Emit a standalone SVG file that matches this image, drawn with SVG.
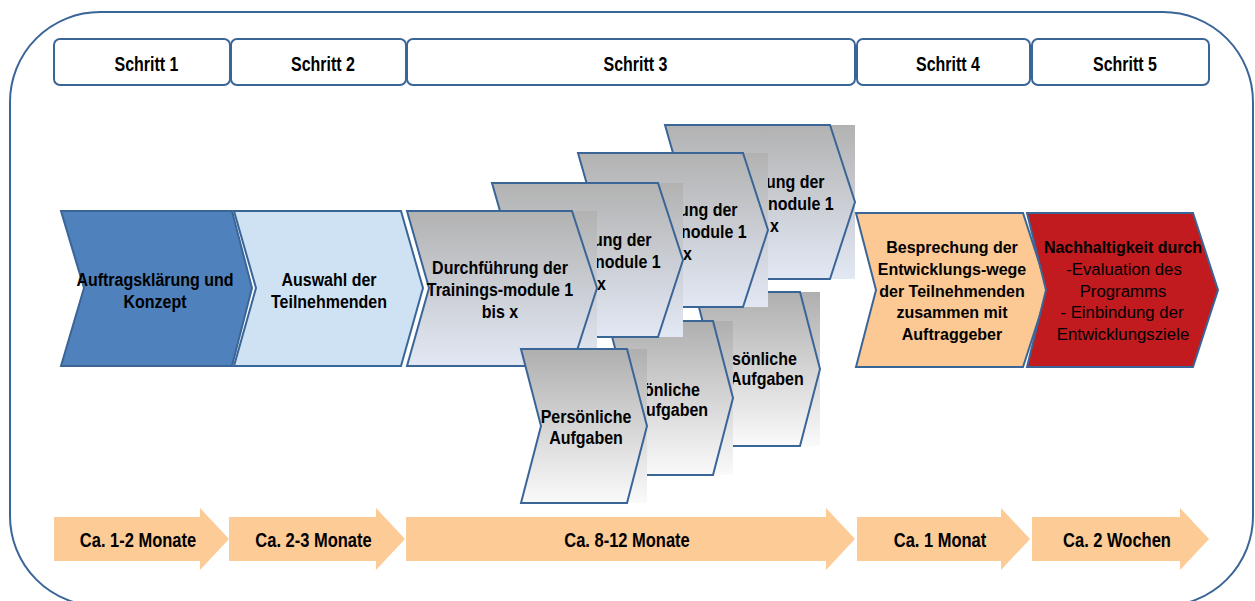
<svg xmlns="http://www.w3.org/2000/svg" width="1255" height="601" viewBox="0 0 1255 601">
<defs>
<linearGradient id="gD" x1="0" y1="0" x2="0" y2="1"><stop offset="0" stop-color="#B2B2B2"/><stop offset="1" stop-color="#E2E8F4"/></linearGradient>
<linearGradient id="gP" x1="0" y1="0" x2="0" y2="1"><stop offset="0" stop-color="#AFAFAF"/><stop offset="1" stop-color="#FAFAFA"/></linearGradient>
<style>
.frame{fill:none;stroke:#3A6597;stroke-width:2}
.hdr{fill:#fff;stroke:#3A6597;stroke-width:2}
.chev{stroke:#3A6597;stroke-width:2;stroke-linejoin:miter}
.gd{fill:url(#gD)}
.gp{fill:url(#gP)}
.t{font-family:"Liberation Sans",Arial,sans-serif;font-weight:bold;font-size:16px;fill:#000;text-anchor:middle}
.b{font-size:16.5px}
.r{font-weight:normal;font-size:16.8px}
.s{text-anchor:start}
.arr{fill:#FCCB96}
</style>
</defs>
<rect width="1255" height="601" fill="#fff"/>
<rect class="frame" x="10" y="12" width="1243" height="594" rx="90" ry="90"/>

<g id="schritt1"><rect class="hdr" x="54" y="39" width="176" height="46" rx="6"/><text class="t" transform="translate(146.5,70.5) scale(1,1.22)">Schritt 1</text></g>
<g id="schritt2"><rect class="hdr" x="231" y="39" width="175" height="46" rx="6"/><text class="t" transform="translate(323,70.5) scale(1,1.22)">Schritt 2</text></g>
<g id="schritt3"><rect class="hdr" x="407" y="39" width="448" height="46" rx="6"/><text class="t" transform="translate(635.5,70.5) scale(1,1.22)">Schritt 3</text></g>
<g id="schritt4"><rect class="hdr" x="857" y="39" width="173" height="46" rx="6"/><text class="t" transform="translate(948,70.5) scale(1,1.22)">Schritt 4</text></g>
<g id="schritt5"><rect class="hdr" x="1032" y="39" width="177" height="46" rx="6"/><text class="t" transform="translate(1125,70.5) scale(1,1.22)">Schritt 5</text></g>

<g id="auftragsklaerung"><polygon class="chev" fill="#4F81BD" stroke="#385D8A" points="61,211 232,211 252,288 232,366 61,366 84,288"/>
<text class="t" transform="translate(155,286) scale(1,1.1)"><tspan x="0" y="0">Auftragsklärung und</tspan><tspan x="0" y="20">Konzept</tspan></text></g>

<g id="auswahl"><polygon class="chev" fill="#CEE2F4" points="234,211 401,211 423,288 401,366 234,366 256,288"/>
<text class="t" transform="translate(329,286) scale(1,1.1)"><tspan x="0" y="0">Auswahl der</tspan><tspan x="0" y="20">Teilnehmenden</tspan></text></g>

<g id="aufgaben-kopie3"><rect class="gp" x="715" y="292" width="105" height="154"/><polygon class="chev gp" points="695,292 800,292 820,369 800,446 695,446 715,369"/>
<text class="t s" transform="translate(732,365) scale(1,1.1)"><tspan x="0" y="0">sönliche</tspan><tspan x="-2" y="18">Aufgaben</tspan></text></g>

<g id="aufgaben-kopie2"><rect class="gp" x="628" y="321" width="105" height="154"/><polygon class="chev gp" points="608,321 713,321 733,398 713,475 608,475 628,398"/>
<text class="t s" transform="translate(644,396) scale(1,1.1)"><tspan x="0" y="0">önliche</tspan><tspan x="2" y="18">ufgaben</tspan></text></g>

<g id="training-kopie4"><rect class="gd" x="687" y="125" width="168" height="154"/><polygon class="chev gd" points="665,125 830,125 855,202 830,279 665,279 687,202"/>
<text class="t s" transform="translate(766,188) scale(1,1.1)"><tspan x="0" y="0">ung der</tspan><tspan x="2" y="20">nodule 1</tspan><tspan x="4" y="40">x</tspan></text></g>

<g id="training-kopie3"><rect class="gd" x="600" y="153" width="168" height="154"/><polygon class="chev gd" points="578,153 743,153 768,230 743,307 578,307 600,230"/>
<text class="t s" transform="translate(679,216) scale(1,1.1)"><tspan x="0" y="0">ung der</tspan><tspan x="2" y="20">nodule 1</tspan><tspan x="4" y="40">x</tspan></text></g>

<g id="training-kopie2"><rect class="gd" x="514" y="183" width="169" height="154"/><polygon class="chev gd" points="492,183 658,183 683,260 658,337 492,337 514,260"/>
<text class="t s" transform="translate(593,246) scale(1,1.1)"><tspan x="0" y="0">ung der</tspan><tspan x="2" y="20">nodule 1</tspan><tspan x="4" y="40">x</tspan></text></g>

<g id="training"><rect class="gd" x="429" y="211" width="168" height="155"/><polygon class="chev gd" points="407,211 572,211 597,288 572,366 407,366 429,288"/>
<text class="t" transform="translate(500,274) scale(1,1.1)"><tspan x="0" y="0">Durchführung der</tspan><tspan x="0" y="20">Trainings-module 1</tspan><tspan x="0" y="40">bis x</tspan></text></g>

<g id="aufgaben"><rect class="gp" x="541" y="349" width="106" height="154"/><polygon class="chev gp" points="521,349 627,349 647,426 627,503 521,503 541,426"/>
<text class="t" transform="translate(586,423) scale(1,1.1)"><tspan x="0" y="0">Persönliche</tspan><tspan x="0" y="19">Aufgaben</tspan></text></g>

<g id="besprechung"><polygon class="chev" fill="#FCC994" points="856,213 1023,213 1048,290 1023,367 856,367 876,290"/>
<text class="t"><tspan x="952" y="253">Besprechung der</tspan><tspan x="952" y="275">Entwicklungs-wege</tspan><tspan x="952" y="297">der Teilnehmenden</tspan><tspan x="952" y="318">zusammen mit</tspan><tspan x="952" y="340">Auftraggeber</tspan></text></g>

<g id="nachhaltigkeit"><polygon class="chev" fill="#C11B20" points="1027,213 1193,213 1218,290 1193,367 1027,367 1046,290"/>
<text class="t"><tspan x="1123" y="253">Nachhaltigkeit durch</tspan><tspan class="r" x="1124" y="275">-Evaluation des</tspan><tspan class="r" x="1123" y="297">Programms</tspan><tspan class="r" x="1122" y="318">- Einbindung der</tspan><tspan class="r" x="1123" y="340">Entwicklungsziele</tspan></text></g>

<g id="dauer1"><path class="arr" d="M54,517 H200 V508 L229,539 L200,570 V561 H54 Z"/><text class="t b" transform="translate(138,547) scale(1,1.22)">Ca. 1-2 Monate</text></g>
<g id="dauer2"><path class="arr" d="M229,517 H376 V508 L405,539 L376,570 V561 H229 Z"/><text class="t b" transform="translate(313.5,547) scale(1,1.22)">Ca. 2-3 Monate</text></g>
<g id="dauer3"><path class="arr" d="M406,517 H826 V508 L855,539 L826,570 V561 H406 Z"/><text class="t b" transform="translate(627,547) scale(1,1.22)">Ca. 8-12 Monate</text></g>
<g id="dauer4"><path class="arr" d="M857,517 H1001 V508 L1030,539 L1001,570 V561 H857 Z"/><text class="t b" transform="translate(940,547) scale(1,1.22)">Ca. 1 Monat</text></g>
<g id="dauer5"><path class="arr" d="M1032,517 H1180 V508 L1209,539 L1180,570 V561 H1032 Z"/><text class="t b" transform="translate(1117,547) scale(1,1.22)">Ca. 2 Wochen</text></g>

<g id="connectors"></g>
</svg>
